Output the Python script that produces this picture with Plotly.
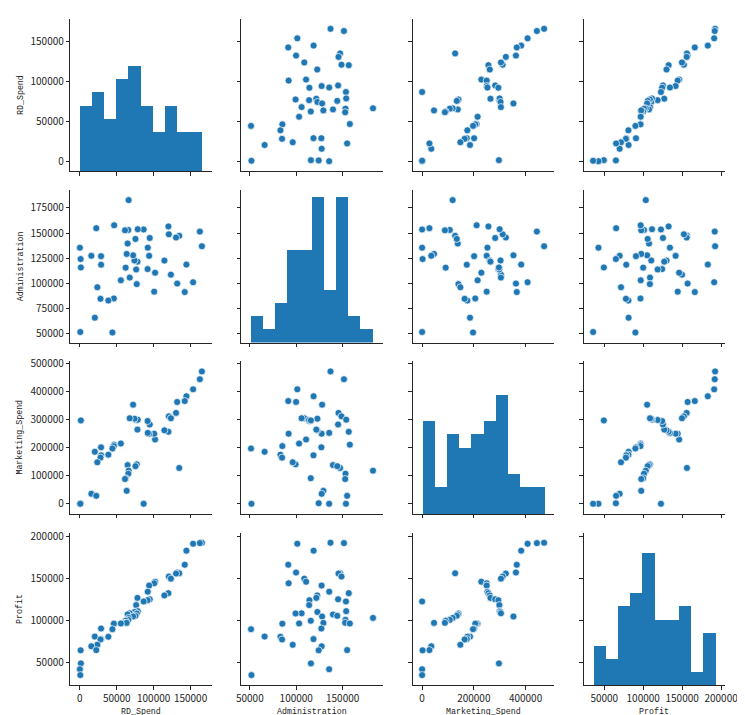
import numpy as np
import plotly.graph_objects as go

# ---------------- data (50 Startups, outlier row removed) ----------------
rd_spend = [165349.2, 162597.7, 153441.51, 144372.41, 142107.34, 131876.9, 134615.46, 130298.13,
            120542.52, 123334.88, 101913.08, 100671.96, 93863.75, 91992.39, 119943.24, 114523.61,
            78013.11, 94657.16, 91749.16, 86419.7, 76253.86, 78389.47, 73994.56, 67532.53,
            77044.01, 64664.71, 75328.87, 72107.6, 66051.52, 65605.48, 61994.48, 61136.38,
            63408.86, 55493.95, 46426.07, 46014.02, 28663.76, 44069.95, 20229.59, 38558.51,
            28754.33, 27892.92, 23640.93, 15505.73, 22177.74, 1000.23, 1315.46, 0.0, 542.05]
administration = [136897.8, 151377.59, 101145.55, 118671.85, 91391.77, 99814.71, 147198.87, 145530.06,
                  148718.95, 108679.17, 110594.11, 91790.61, 127320.38, 135495.07, 156547.42, 122616.84,
                  121597.55, 145077.58, 114175.79, 153514.11, 113867.3, 153773.43, 122782.75, 105751.03,
                  99281.34, 139553.16, 144135.98, 127864.55, 182645.56, 153032.06, 115641.28, 152701.92,
                  129219.61, 103057.49, 157693.92, 85047.44, 127056.21, 51283.14, 65947.93, 82982.09,
                  118546.05, 84710.77, 96189.63, 127382.3, 154806.14, 124153.04, 115816.21, 135426.92,
                  51743.15]
marketing_spend = [471784.1, 443898.53, 407934.54, 383199.62, 366168.42, 362861.36, 127716.82, 323876.68,
                   311613.29, 304981.62, 229160.95, 249744.55, 249839.44, 252664.93, 256512.92, 261776.23,
                   264346.06, 282574.31, 294919.57, 0.0, 298664.47, 299737.29, 303319.26, 304768.73,
                   140574.81, 137962.62, 134050.07, 353183.81, 118148.2, 107138.38, 91131.24, 88218.23,
                   46085.25, 214634.81, 210797.67, 205517.64, 201126.82, 197029.42, 185265.1, 174999.3,
                   172795.67, 164470.71, 148001.11, 35534.17, 28334.72, 1903.93, 297114.46, 0.0, 0.0]
profit = [192261.83, 191792.06, 191050.39, 182901.99, 166187.94, 156991.12, 156122.51, 155752.6,
          152211.77, 149759.96, 146121.95, 144259.4, 141585.52, 134307.35, 132602.65, 129917.04,
          126992.93, 125370.37, 124266.9, 122776.86, 118474.03, 111313.02, 110352.25, 108733.99,
          108552.04, 107404.34, 105733.54, 105008.31, 103282.38, 101004.64, 99937.59, 97483.56,
          97427.84, 96778.92, 96712.8, 96479.51, 90708.19, 89949.14, 81229.06, 81005.76,
          78239.91, 77798.83, 71498.49, 69758.98, 65200.33, 64926.08, 49490.75, 42559.73, 35673.41]

var_names = ["RD_Spend", "Administration", "Marketing_Spend", "Profit"]
rd_ticks = [0, 50000, 100000, 150000]
admin_x_ticks = [50000, 100000, 150000]
admin_y_ticks = [50000, 75000, 100000, 125000, 150000, 175000]
marketing_x_ticks = [0, 200000, 400000]
marketing_y_ticks = [0, 100000, 200000, 300000, 400000, 500000]
profit_ticks = [50000, 100000, 150000, 200000]

series = [rd_spend, administration, marketing_spend, profit]
x_ticks = [rd_ticks, admin_x_ticks, marketing_x_ticks, profit_ticks]
y_ticks = [rd_ticks, admin_y_ticks, marketing_y_ticks, profit_ticks]

# ---------------- layout geometry ----------------
W, H = 745, 715
col_left = [62.3, 233.4, 404.5, 575.5]
col_w = 141.2
row_top = [10.7, 182.0, 353.3, 524.6]
row_h = 152.6
BLUE = "#1f77b4"
INK = "#262626"
TICKFONT = dict(family="Noto Sans CJK SC, DejaVu Sans", size=10, color=INK)
LABELFONT = dict(family="Liberation Mono, DejaVu Sans Mono", size=8.3, color="#1a1a1a")


def data_range(vals, length, r=3.5):
    lo, hi = min(vals), max(vals)
    span = hi - lo
    upp = 1.1 * span / (length - 2 * r)
    return [lo - 0.05 * span - r * upp, hi + 0.05 * span + r * upp]


x_ranges = [data_range(v, col_w) for v in series]
y_ranges = [data_range(v, row_h) for v in series]

# histograms (matplotlib default: 10 bins), count axis shared across diagonal
hists = [np.histogram(np.array(v), bins=10) for v in series]
hist_max = max(h[0].max() for h in hists) * 1.05

fig = go.Figure()
layout = {}
annotations = []

for r in range(4):
    for c in range(4):
        n = r * 4 + c + 1
        xs = "" if n == 1 else str(n)
        x0 = col_left[c] / W
        x1 = (col_left[c] + col_w) / W
        y1 = 1 - row_top[r] / H
        y0 = 1 - (row_top[r] + row_h) / H
        layout["xaxis" + xs] = dict(
            domain=[x0, x1], anchor="y" + xs, range=x_ranges[c],
            tickvals=x_ticks[c], ticktext=[str(t) for t in x_ticks[c]],
            showticklabels=(r == 3), ticks="outside", ticklen=3.5, tickwidth=1,
            tickcolor=INK, showline=True, linecolor=INK, linewidth=1,
            showgrid=False, zeroline=False, tickfont=TICKFONT, automargin=False)
        if r == c:
            # histogram cell: y axis in counts; tick marks placed where the
            # row variable's ticks fall (as in the shared-row pairplot)
            lo, hi = y_ranges[r]
            tv = [(t - lo) / (hi - lo) * hist_max for t in y_ticks[r]]
            y_range = [0, hist_max]
        else:
            tv = y_ticks[r]
            y_range = y_ranges[r]
        layout["yaxis" + xs] = dict(
            domain=[y0, y1], anchor="x" + xs, range=y_range,
            tickvals=tv, ticktext=[str(t) for t in y_ticks[r]],
            showticklabels=(c == 0), ticks="outside", ticklen=3.5, tickwidth=1,
            tickcolor=INK, showline=True, linecolor=INK, linewidth=1,
            showgrid=False, zeroline=False, tickfont=TICKFONT, automargin=False)
        if r == c:
            counts, edges = hists[r]
            centers = (edges[:-1] + edges[1:]) / 2
            widths = np.diff(edges)
            fig.add_trace(go.Bar(x=centers, y=counts, width=widths,
                                 marker=dict(color=BLUE, line=dict(width=0)),
                                 xaxis="x" + xs, yaxis="y" + xs, showlegend=False))
        else:
            fig.add_trace(go.Scatter(
                x=series[c], y=series[r], mode="markers",
                marker=dict(color=BLUE, size=7, line=dict(color="white", width=0.7)),
                xaxis="x" + xs, yaxis="y" + xs, showlegend=False))

# axis titles
for r in range(4):
    yc = 1 - (row_top[r] + row_h / 2) / H
    annotations.append(dict(text=var_names[r], xref="paper", yref="paper",
                            x=12 / W, y=yc, xanchor="center", yanchor="middle",
                            textangle=-90, showarrow=False, font=LABELFONT))
for c in range(4):
    xc = (col_left[c] + col_w / 2) / W
    annotations.append(dict(text=var_names[c], xref="paper", yref="paper",
                            x=xc, y=1 - 703.5 / H, xanchor="center", yanchor="middle",
                            showarrow=False, font=LABELFONT))

fig.update_layout(
    width=W, height=H, margin=dict(l=0, r=0, t=0, b=0, pad=0),
    paper_bgcolor="white", plot_bgcolor="white", showlegend=False,
    bargap=0, annotations=annotations, **layout)

fig.write_html("out.html")
